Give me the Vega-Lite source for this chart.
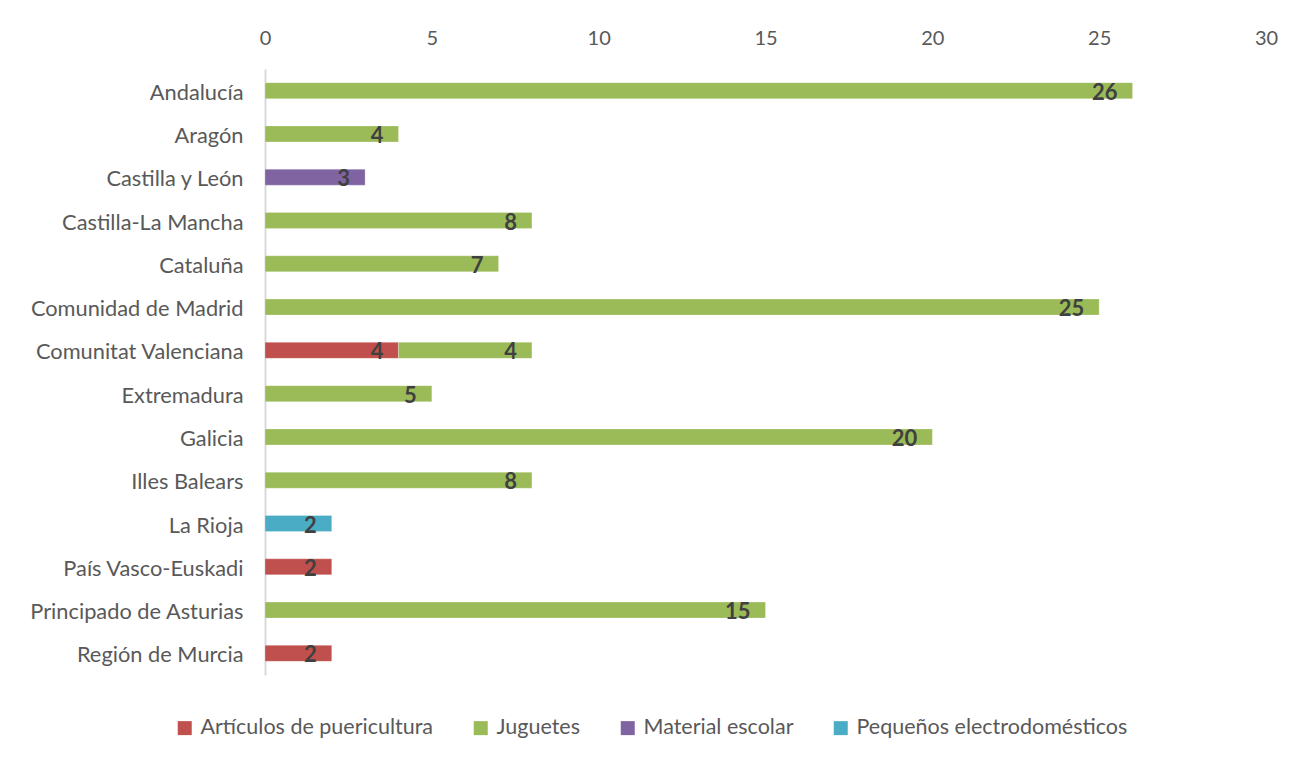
{
  "$schema": "https://vega.github.io/schema/vega-lite/v6.json",
  "autosize": {"type": "none"},
  "width": 1001,
  "height": 606,
  "padding": {"left": 265, "top": 69, "right": 43, "bottom": 83},
  "background": "white",
  "config": {
    "view": {"stroke": null},
    "font": "Lato",
    "axis": {"labelFont": "Lato", "labelColor": "#595959", "grid": false, "ticks": false, "title": null, "labelLimit": 0}
  },
  "data": {
    "values": [
      {"region": "Andalucía", "categoria": "Juguetes", "valor": 26},
      {"region": "Aragón", "categoria": "Juguetes", "valor": 4},
      {"region": "Castilla y León", "categoria": "Material escolar", "valor": 3},
      {"region": "Castilla-La Mancha", "categoria": "Juguetes", "valor": 8},
      {"region": "Cataluña", "categoria": "Juguetes", "valor": 7},
      {"region": "Comunidad de Madrid", "categoria": "Juguetes", "valor": 25},
      {"region": "Comunitat Valenciana", "categoria": "Artículos de puericultura", "valor": 4},
      {"region": "Comunitat Valenciana", "categoria": "Juguetes", "valor": 4},
      {"region": "Extremadura", "categoria": "Juguetes", "valor": 5},
      {"region": "Galicia", "categoria": "Juguetes", "valor": 20},
      {"region": "Illes Balears", "categoria": "Juguetes", "valor": 8},
      {"region": "La Rioja", "categoria": "Pequeños electrodomésticos", "valor": 2},
      {"region": "País Vasco-Euskadi", "categoria": "Artículos de puericultura", "valor": 2},
      {"region": "Principado de Asturias", "categoria": "Juguetes", "valor": 15},
      {"region": "Región de Murcia", "categoria": "Artículos de puericultura", "valor": 2}
    ]
  },
  "encoding": {
    "y": {
      "field": "region",
      "type": "nominal",
      "sort": null,
      "scale": {"paddingInner": 0.63, "paddingOuter": 0.315},
      "axis": {"domainColor": "#D9D9D9", "domainWidth": 2, "labelFontSize": 21.8, "labelPadding": 22, "labelOffset": 2}
    },
    "x": {
      "field": "valor",
      "type": "quantitative",
      "stack": "zero",
      "scale": {"domain": [0, 30], "nice": false},
      "axis": {"orient": "top", "values": [0, 5, 10, 15, 20, 25, 30], "domain": false, "labelFontSize": 20, "labelPadding": 21, "labelFlush": false}
    },
    "order": {"field": "categoria"}
  },
  "layer": [
    {
      "mark": {"type": "bar", "stroke": "white", "strokeWidth": 0.5, "strokeOpacity": 0.5},
      "encoding": {
        "color": {
          "field": "categoria",
          "type": "nominal",
          "scale": {
            "domain": ["Artículos de puericultura", "Juguetes", "Material escolar", "Pequeños electrodomésticos"],
            "range": ["#C0504D", "#9BBB59", "#8064A2", "#4BACC6"]
          },
          "legend": {
            "title": null,
            "orient": "none",
            "direction": "horizontal",
            "legendX": -91,
            "legendY": 648,
            "symbolType": "square",
            "symbolSize": 196,
            "symbolStrokeWidth": 0,
            "labelFontSize": 21.5,
            "labelColor": "#595959",
            "labelFont": "Lato",
            "labelOffset": 5,
            "labelLimit": 0,
            "columnPadding": 36
          }
        }
      }
    },
    {
      "mark": {"type": "text", "align": "right", "baseline": "middle", "dx": -15, "dy": 2, "fontSize": 22, "fontWeight": "bold", "color": "#404040"},
      "encoding": {
        "x": {"field": "valor", "type": "quantitative", "stack": "zero"},
        "text": {"field": "valor", "type": "quantitative"}
      }
    }
  ]
}
